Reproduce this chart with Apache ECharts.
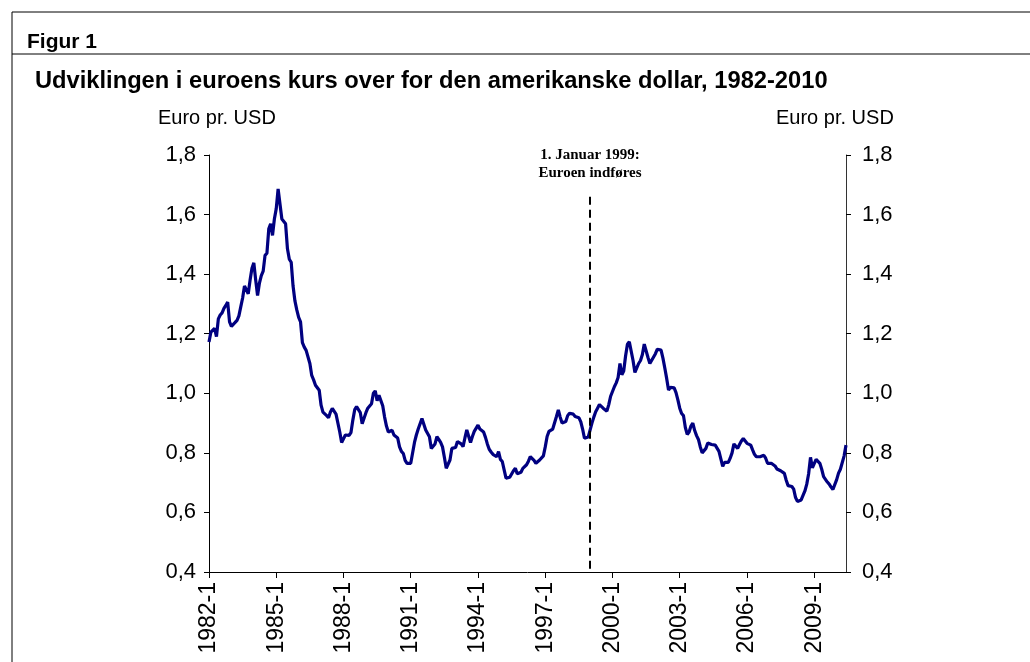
<!DOCTYPE html>
<html>
<head>
<meta charset="utf-8">
<script src="https://cdn.jsdelivr.net/npm/echarts@6/dist/echarts.min.js"></script>
<style>
html,body{margin:0;padding:0;background:#fff;}
#chart{width:1030px;height:662px;}
</style>
</head>
<body>
<div id="chart"></div>
<script>
// ---- Data ----
var startYear = 1982;
var monthCount = 342; // 1982-1 .. 2010-6
var categories = [];
for (var k = 0; k < monthCount; k++) {
  categories.push((startYear + Math.floor(k / 12)) + '-' + (k % 12 + 1));
}
var values1982_1987 = [
  1.172,1.205,1.21,1.218,1.19,1.25,1.263,1.27,1.285,1.295,1.306,1.24,
  1.225,1.225,1.238,1.245,1.26,1.29,1.32,1.36,1.355,1.334,1.38,1.42,
  1.438,1.38,1.328,1.37,1.395,1.41,1.463,1.47,1.552,1.569,1.53,1.585,
  1.62,1.686,1.686,1.585,1.585,1.569,1.485,1.45,1.44,1.36,1.31,1.28,
  1.255,1.24,1.17,1.155,1.144,1.14,1.1,1.06,1.045,1.027,1.027,1.01,
  0.96,0.937,0.937,0.925,0.918,0.937,0.949,0.945,0.93,0.925,0.87,0.835
];
var values1988_1993 = [
  0.84,0.86,0.862,0.859,0.868,0.91,0.945,0.955,0.96,0.935,0.898,0.904,
  0.935,0.95,0.955,0.965,1.0,1.008,0.975,0.993,0.99,0.958,0.92,0.89,
  0.87,0.868,0.876,0.86,0.865,0.85,0.82,0.805,0.798,0.775,0.765,0.77,
  0.765,0.76,0.835,0.86,0.88,0.885,0.915,0.92,0.877,0.871,0.854,0.815,
  0.812,0.83,0.854,0.845,0.835,0.82,0.785,0.748,0.743,0.776,0.815,0.815,
  0.818,0.838,0.843,0.83,0.821,0.85,0.877,0.875,0.835,0.855,0.872,0.877
];
var values1994_1999 = [
  0.893,0.88,0.875,0.87,0.852,0.83,0.812,0.803,0.795,0.79,0.787,0.804,
  0.778,0.771,0.743,0.715,0.72,0.718,0.715,0.74,0.748,0.73,0.728,0.735,
  0.748,0.752,0.76,0.772,0.787,0.783,0.775,0.765,0.765,0.776,0.776,0.79,
  0.82,0.855,0.872,0.877,0.88,0.885,0.922,0.944,0.92,0.9,0.894,0.905,
  0.925,0.933,0.936,0.93,0.922,0.922,0.918,0.905,0.88,0.849,0.843,0.853,
  0.857,0.9,0.92,0.938,0.95,0.962,0.968,0.95,0.95,0.94,0.962,0.99
];
var values2000_2005 = [
  0.994,1.022,1.035,1.053,1.1,1.062,1.075,1.125,1.165,1.173,1.17,1.11,
  1.07,1.085,1.1,1.11,1.13,1.165,1.165,1.12,1.1,1.1,1.122,1.133,
  1.148,1.153,1.145,1.118,1.085,1.05,1.011,1.02,1.022,1.018,1.002,0.978,
  0.95,0.932,0.925,0.885,0.862,0.87,0.89,0.9,0.875,0.858,0.845,0.82,
  0.8,0.795,0.815,0.833,0.837,0.828,0.822,0.826,0.822,0.805,0.78,0.755,
  0.768,0.768,0.768,0.782,0.8,0.83,0.826,0.815,0.828,0.84,0.848,0.843
];
var values2006_2010 = [
  0.832,0.837,0.826,0.81,0.795,0.787,0.792,0.787,0.79,0.792,0.782,0.765,
  0.77,0.765,0.76,0.756,0.746,0.748,0.74,0.735,0.731,0.708,0.69,0.687,
  0.687,0.678,0.65,0.637,0.64,0.642,0.636,0.672,0.695,0.73,0.785,0.75,
  0.755,0.778,0.778,0.765,0.745,0.72,0.715,0.702,0.695,0.685,0.677,0.68,
  0.71,0.732,0.745,0.75,0.79,0.826
];
var values = [].concat(values1982_1987, values1988_1993, values1994_1999, values2000_2005, values2006_2010);

var yTicks = [0.4, 0.6, 0.8, 1.0, 1.2, 1.4, 1.6, 1.8];
var euroIntroCategory = '1999-1';
var euroLineTop = 1.66;
var titleText = 'Udviklingen i euroens kurs over for den amerikanske dollar, 1982-2010';
var figText = 'Figur 1';
var axisUnit = 'Euro pr. USD';
var annotationLines = ['1. Januar 1999:', 'Euroen indføres'];

// ---- Chart ----
var chart = echarts.init(document.getElementById('chart'), null, {renderer: 'canvas'});
function fmt(v) { return v.toFixed(1).replace('.', ','); }
var FONT = 'Liberation Sans, Arial, sans-serif';
var yAxisCommon = {
  type: 'value',
  min: yTicks[0],
  max: yTicks[yTicks.length - 1],
  interval: 0.2,
  splitLine: {show: false},
  axisLine: {show: true, lineStyle: {color: '#000', width: 1}},
  axisTick: {show: true, length: 5, lineStyle: {color: '#000'}},
  axisLabel: {formatter: fmt, color: '#000', fontSize: 22, fontFamily: FONT, margin: 13}
};
var option = {
  animation: false,
  backgroundColor: '#fff',
  grid: {left: 209, right: 184, top: 155, bottom: 90, containLabel: false},
  xAxis: {
    type: 'category',
    data: categories,
    boundaryGap: false,
    axisLine: {show: true, lineStyle: {color: '#000', width: 1}},
    axisTick: {show: true, interval: 35, length: 6, lineStyle: {color: '#000'}},
    axisLabel: {interval: 35, rotate: 90, color: '#000', fontSize: 23, fontFamily: FONT, margin: 10},
    splitLine: {show: false}
  },
  yAxis: [
    Object.assign({}, yAxisCommon, {position: 'left'}),
    Object.assign({}, yAxisCommon, {position: 'right', axisLine: {show: true, lineStyle: {color: '#333', width: 1}}, axisLabel: Object.assign({}, yAxisCommon.axisLabel, {margin: 16})})
  ],
  series: [{
    type: 'line',
    data: values,
    yAxisIndex: 0,
    showSymbol: false,
    symbol: 'none',
    lineStyle: {color: '#000080', width: 3.2},
    markLine: {
      silent: true,
      symbol: ['none', 'none'],
      label: {show: false},
      lineStyle: {color: '#000', width: 2, type: [8, 5]},
      data: [[{coord: [euroIntroCategory, euroLineTop]}, {coord: [euroIntroCategory, yTicks[0]]}]]
    }
  }],
  graphic: [
    {type: 'line', shape: {x1: 12, y1: 12, x2: 1030, y2: 12}, style: {stroke: '#000', lineWidth: 1}},
    {type: 'line', shape: {x1: 12, y1: 54, x2: 1030, y2: 54}, style: {stroke: '#000', lineWidth: 1}},
    {type: 'line', shape: {x1: 12, y1: 12, x2: 12, y2: 662}, style: {stroke: '#000', lineWidth: 1}},
    {type: 'text', left: 27, top: 32, style: {text: figText, font: 'bold 21px ' + FONT, fill: '#000'}},
    {type: 'text', left: 35, top: 69, style: {text: titleText, font: 'bold 23.7px ' + FONT, fill: '#000'}},
    {type: 'text', left: 158, top: 108, style: {text: axisUnit, font: '20px ' + FONT, fill: '#000'}},
    {type: 'text', left: 776, top: 108, style: {text: axisUnit, font: '20px ' + FONT, fill: '#000'}},
    {type: 'text', x: 590, y: 148, style: {text: annotationLines[0], textAlign: 'center', font: 'bold 15px Liberation Serif, serif', fill: '#000'}},
    {type: 'text', x: 590, y: 166, style: {text: annotationLines[1], textAlign: 'center', font: 'bold 15px Liberation Serif, serif', fill: '#000'}}
  ]
};
chart.setOption(option);
</script>
</body>
</html>
